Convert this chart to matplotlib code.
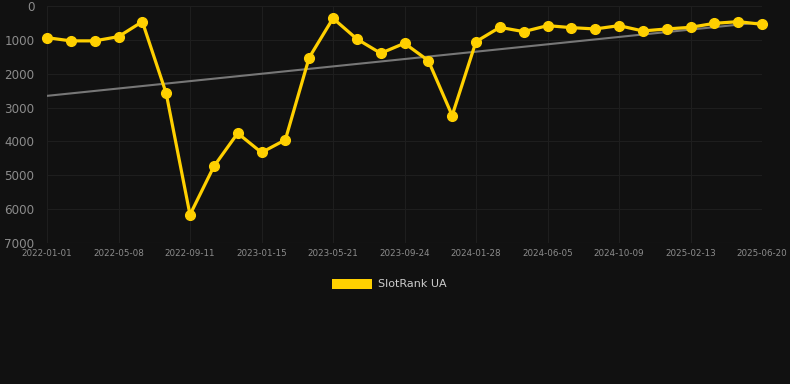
import numpy as np
import matplotlib
matplotlib.use("Agg")
import matplotlib.pyplot as plt
from matplotlib.patches import Patch

# rank values, one point per ~6 weeks from 2022-01-01 to 2025-06-20
ranks = [935, 1030, 1030, 905, 462, 2577, 6166, 4740, 3757, 4327, 3953,
         1524, 364, 974, 1396, 1101, 1613, 3235, 1052, 630, 757, 580,
         639, 678, 580, 737, 678, 630, 512, 462, 541]
tick_labels = ["2022-01-01", "2022-05-08", "2022-09-11", "2023-01-15",
               "2023-05-21", "2023-09-24", "2024-01-28", "2024-06-05",
               "2024-10-09", "2025-02-13", "2025-06-20"]
y_ticks = [0, 1000, 2000, 3000, 4000, 5000, 6000, 7000]
series_name = "SlotRank UA"

bg = "#111111"
gold = "#ffd000"

fig = plt.figure(figsize=(7.9, 3.84), dpi=100, facecolor=bg)
ax = fig.add_axes([47/790, 1 - 243/384, 715/790, 237/384], facecolor=bg)

x = np.arange(len(ranks))
k, b = np.polyfit(x, ranks, 1)
ax.plot(x, k*x + b, color="#777777", lw=1.5, zorder=2)
ax.plot(x, ranks, color=gold, lw=2.3, marker="o", ms=7,
        zorder=3, clip_on=False)

ax.set_xlim(0, len(ranks) - 1)
ax.set_ylim(7000, 0)
ax.set_yticks(y_ticks)
ax.set_yticklabels([str(v) for v in y_ticks], color="#8c8c8c", fontsize=8.6)
ax.set_xticks(x[::3])
ax.set_xticklabels(tick_labels, color="#8c8c8c", fontsize=6.3)
ax.tick_params(length=0, pad=4)
ax.tick_params(axis="y", pad=9)
ax.grid(True, color="#1e1e1e", lw=0.8)
for s in ax.spines.values():
    s.set_visible(False)
ax.axhline(7000, color="#2a2a2a", lw=0.8, zorder=1)

leg = fig.legend(handles=[Patch(facecolor=gold, label=series_name)],
                 loc="center", bbox_to_anchor=(0.493, 1 - 284/384),
                 frameon=False, fontsize=8, handlelength=3.6,
                 handleheight=1.0, handletextpad=0.5)
for t in leg.get_texts():
    t.set_color("#cccccc")

fig.savefig("out.png", dpi=100, facecolor=bg)
